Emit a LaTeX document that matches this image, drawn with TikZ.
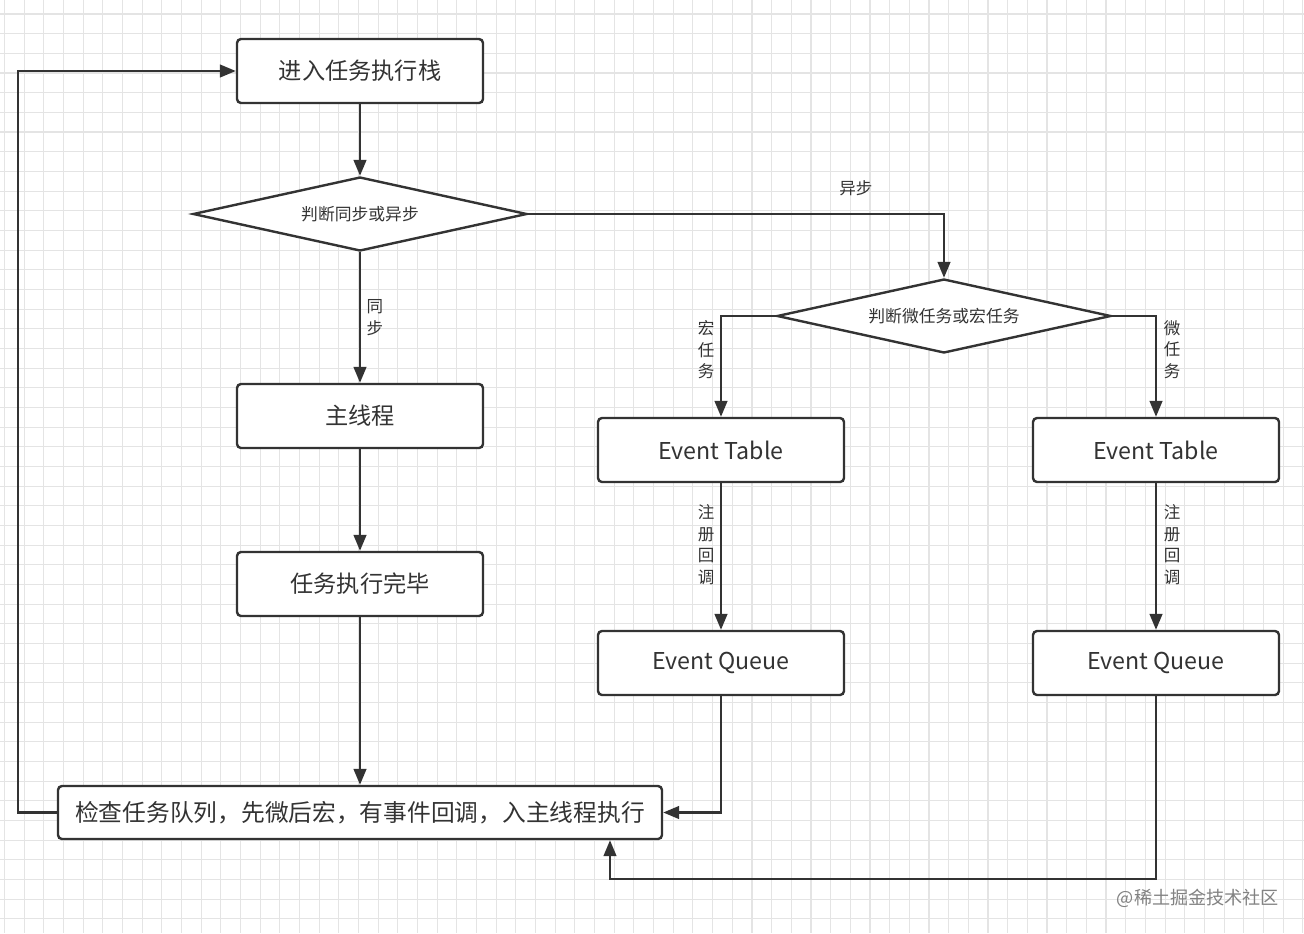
\documentclass[tikz,border=0pt]{standalone}
\usepackage{fontspec}
\setmainfont{Noto Sans CJK SC}
\usetikzlibrary{shapes.geometric,arrows.meta}
\definecolor{ink}{RGB}{51,51,51}
\definecolor{gridc}{RGB}{228,228,228}
\definecolor{wm}{RGB}{130,130,130}
\tikzset{
  box/.style={draw=ink, line width=1.8pt, fill=white, rounded corners=3pt,
    minimum width=184.5pt, minimum height=48pt, inner sep=0pt,
    font=\fontsize{17.4pt}{20pt}\selectfont, text=ink},
  bigbox/.style={box, minimum width=453pt, minimum height=39.75pt,
    font=\fontsize{17.8pt}{20pt}\selectfont},
  decide/.style={draw=ink, line width=1.8pt, fill=white, shape=diamond,
    shape aspect=4.5, inner sep=0pt, minimum width=250.5pt, minimum height=55.5pt,
    font=\fontsize{12.6pt}{15pt}\selectfont, text=ink},
  conn/.style={draw=ink, line width=1.8pt,
    -{Triangle[length=12pt,width=9.5pt]}},
  lbl/.style={inner sep=0pt, text=ink, align=center,
    font=\fontsize{12.4pt}{16.2pt}\selectfont},
}
\begin{document}
\begin{tikzpicture}[x=0.75pt,y=-0.75pt]
\useasboundingbox (0,0) rectangle (1304,933);
\fill[white] (0,0) rectangle (1304,933);
% grid
\foreach \k in {0,...,66}{
  \draw[gridc, line width=0.8pt] ({4.5+19.67*\k},0) -- ({4.5+19.67*\k},933);
}
\foreach \k in {0,...,46}{
  \draw[gridc, line width=0.8pt] (0,{14+19.67*\k}) -- (1304,{14+19.67*\k});
}
% nodes
\node[box] (b1) at (360,71) {进入任务执行栈};
\node[decide] (d1) at (360,214) {判断同步或异步};
\node[box] (b2) at (360,416) {主线程};
\node[box] (b3) at (360,584) {任务执行完毕};
\node[bigbox] (chk) at (360,812.5) {检查任务队列，先微后宏，有事件回调，入主线程执行};
\node[decide] (d2) at (944,316) {判断微任务或宏任务};
\node[box] (et1) at (721,450) {Event Table};
\node[box] (et2) at (1156,450) {Event Table};
\node[box] (eq1) at (721,663) {Event Queue};
\node[box] (eq2) at (1156,663) {Event Queue};
\coordinate (lft) at (18,812.5);
\coordinate (rb) at (610,879);
% connectors
\draw[conn] (b1.south) -- (d1.north);
\draw[conn] (d1.south) -- node[lbl, pos=0.5, right=4pt] {同\\步} (b2.north);
\draw[conn] (b2.south) -- (b3.north);
\draw[conn] (b3.south) -- (chk.north);
\draw[conn] (chk.west) -- (lft) |- (b1.west);
\draw[conn] (d1.east) -| node[lbl, pos=0.394, above=13pt] {异步} (d2.north);
\draw[conn] (d2.west) -| node[lbl, pos=0.667, left=4pt] {宏\\任\\务} (et1.north);
\draw[conn] (d2.east) -| node[lbl, pos=0.667, right=5pt] {微\\任\\务} (et2.north);
\draw[conn] (et1.south) -- node[lbl, pos=0.42, left=4pt] {注\\册\\回\\调} (eq1.north);
\draw[conn] (et2.south) -- node[lbl, pos=0.42, right=5pt] {注\\册\\回\\调} (eq2.north);
\draw[conn] (eq1.south) |- (chk.east);
\draw[conn] (eq2.south) |- (rb) -- (rb |- chk.south);
% watermark
\node[inner sep=0pt, text=wm, font=\fontsize{13.6pt}{16pt}\selectfont] (wmk) at (1198,898) {@稀土掘金技术社区};
\end{tikzpicture}
\end{document}
